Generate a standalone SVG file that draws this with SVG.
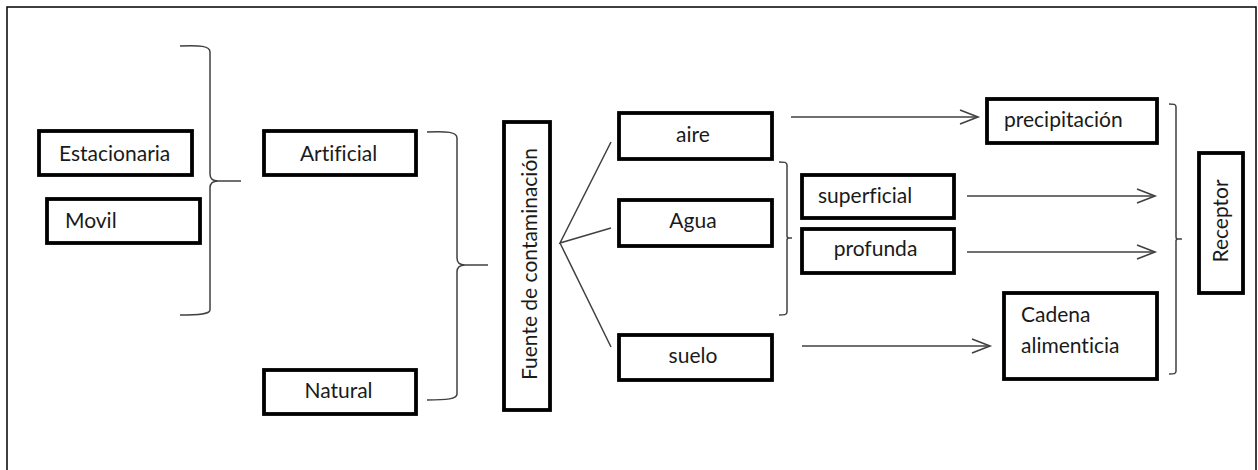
<svg xmlns="http://www.w3.org/2000/svg" width="1258" height="470" viewBox="0 0 1258 470">
<defs>
<marker id="arr" markerUnits="userSpaceOnUse" markerWidth="24" markerHeight="20" refX="19" refY="8" orient="auto">
<polyline points="1,1 19,8 1,15" fill="none" stroke="#404040" stroke-width="1.6"/>
</marker>
<style>
.box{fill:#fff;stroke:#000;stroke-width:3.8}
.t{font-family:Lato,"Liberation Sans",sans-serif;font-size:21px;fill:#1a1a1a;font-variant-ligatures:none;font-feature-settings:"liga" 0}
.c{fill:none;stroke:#404040;stroke-width:1.5}
.a{fill:none;stroke:#404040;stroke-width:1.5;marker-end:url(#arr)}
</style>
</defs>
<rect x="7" y="7" width="1249" height="480" fill="#fff" stroke="#000" stroke-width="1.5"/>
<g id="connectors">
<path class="c" d="M180 46 C200 45 210 46 210 52 L210 174 C210 179 213 181 218 181 L241 181 M218 181 C213 181 210 183 210 188 L210 310 C210 314 200 315 180 315"/>
<path class="c" d="M427 132 C447 131 457 132 457 138 L457 258 C457 263 460 265 465 265 L488 265 M465 265 C460 265 457 267 457 272 L457 394 C457 399 447 400 427 400"/>
<path class="c" d="M779 162 C784 162 787 162 787 165 L787 236 C787 238 788 238 789 238 L792 238 M789 238 C788 238 787 238 787 240 L787 312 C787 315 784 315 779 315"/>
<path class="c" d="M1169 104 C1174 104 1176 104 1176 107 L1176 237 C1176 239 1177 239 1178 239 L1182 239 M1178 239 C1177 239 1176 239 1176 241 L1176 371 C1176 374 1174 374 1169 374"/>
<path class="c" d="M611 142 L560 243 L611 228 M560 243 L611 347"/>
<line class="a" x1="791" y1="117" x2="978" y2="117"/>
<line class="a" x1="967" y1="196" x2="1155" y2="196"/>
<line class="a" x1="967" y1="252" x2="1155" y2="252"/>
<line class="a" x1="802" y1="346" x2="990" y2="346"/>
</g>
<g id="estacionaria"><rect class="box" x="39" y="131" width="153" height="44"/><text class="t" x="59" y="161">Estacionaria</text></g>
<g id="movil"><rect class="box" x="47" y="199" width="153" height="44"/><text class="t" x="65" y="228">Movil</text></g>
<g id="artificial"><rect class="box" x="264" y="131" width="152" height="44"/><text class="t" x="338.5" y="161" text-anchor="middle">Artificial</text></g>
<g id="natural"><rect class="box" x="264" y="370" width="152" height="44"/><text class="t" x="338.5" y="398" text-anchor="middle">Natural</text></g>
<g id="fuente"><rect class="box" x="504" y="122" width="46" height="288"/><text class="t" transform="translate(537 264) rotate(-90)" text-anchor="middle">Fuente de contaminación</text></g>
<g id="aire"><rect class="box" x="619" y="113" width="153" height="46"/><text class="t" x="693" y="142" text-anchor="middle">aire</text></g>
<g id="agua"><rect class="box" x="619" y="200" width="153" height="46"/><text class="t" x="693" y="228" text-anchor="middle">Agua</text></g>
<g id="suelo"><rect class="box" x="619" y="335" width="153" height="45"/><text class="t" x="693" y="363" text-anchor="middle">suelo</text></g>
<g id="precipitacion"><rect class="box" x="987" y="99" width="170" height="44"/><text class="t" x="1004" y="127">precipitación</text></g>
<g id="superficial"><rect class="box" x="802" y="175" width="152" height="43"/><text class="t" x="818" y="203">superficial</text></g>
<g id="profunda"><rect class="box" x="802" y="229" width="152" height="44"/><text class="t" x="875.5" y="256" text-anchor="middle">profunda</text></g>
<g id="cadena"><rect class="box" x="1004" y="293" width="153" height="86"/><text class="t" x="1021" y="322">Cadena</text><text class="t" x="1021" y="353">alimenticia</text></g>
<g id="receptor"><rect class="box" x="1199" y="153" width="44" height="140"/><text class="t" transform="translate(1228 221) rotate(-90)" text-anchor="middle">Receptor</text></g>
</svg>
